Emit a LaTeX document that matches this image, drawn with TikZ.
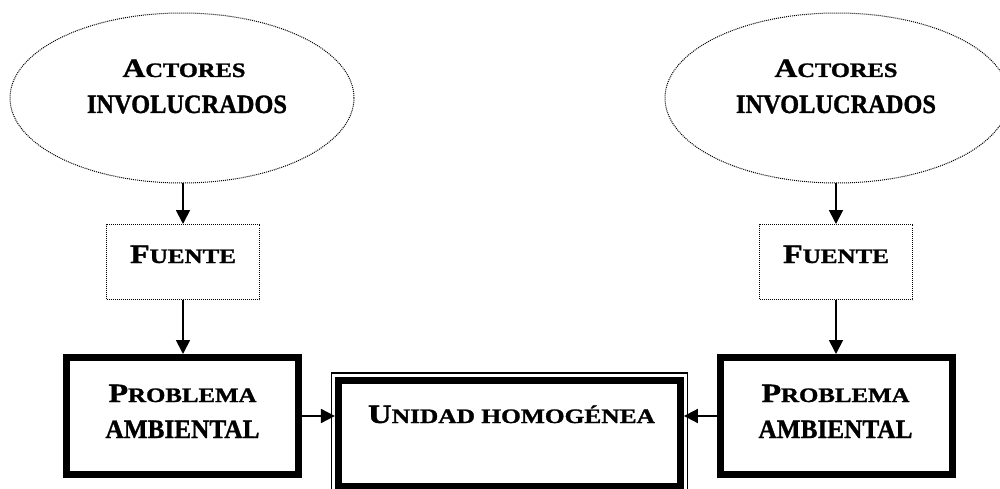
\documentclass[tikz,border=0pt]{standalone}
\usepackage{fontspec}
\setmainfont{Liberation Serif}[BoldFeatures={FakeBold=1.2}]
\usepackage{graphicx}
\usetikzlibrary{shapes.geometric,arrows.meta,calc}

% capital and small-capital sizes, bold face
\newcommand\capsz{\bfseries\fontsize{26.5}{30}\selectfont}
\newcommand\smcsz{\bfseries\fontsize{20.5}{24}\selectfont}
% stretch a line of text to a given width, keeping its height
\newcommand\fitw[2]{\resizebox{#1}{\height}{#2}}

\begin{document}
\begin{tikzpicture}[x=1pt,y=1pt,
  dotline/.style={draw, line width=1pt, dash pattern=on 1pt off 1pt},
  actor/.style={dotline, ellipse, minimum width=344pt, minimum height=170pt, inner sep=0pt},
  source/.style={dotline, rectangle, minimum width=153pt, minimum height=75pt, inner sep=0pt},
  problem/.style={draw, line width=7pt, rectangle, minimum width=232pt, minimum height=117pt, inner sep=0pt},
  unit/.style={draw, line width=7pt, rectangle, minimum width=342pt, minimum height=106.5pt, inner sep=0pt},
  lbl/.style={anchor=base, inner sep=0pt, font=\bfseries},
  arr/.style={line width=1.8pt, -{Triangle[length=14pt,width=14pt]}}
]
\clip (0,0) rectangle (1000,488);

% shapes
\node[actor]   (ell1) at (182,390) {};
\node[actor]   (ell2) at (837,390) {};
\node[source]  (f1)   at (183,226) {};
\node[source]  (f2)   at (836,226) {};
\node[problem] (p1)   at (182.5,72) {};
\node[problem] (p2)   at (836,72) {};
\node[unit]    (u)    at (509.4,54.75) {};
\draw[line width=1.2pt] ($(u.north west)+(-3.5,3.5)$) rectangle ($(u.south east)+(3.5,-3.5)$);

% texts
\node[lbl] (a1) at (184,411) {\fitw{123pt}{\capsz A\smcsz CTORES}};
\node[lbl] (b1) at (187,375) {\fitw{200pt}{\capsz INVOLUCRADOS}};
\node[lbl] (a2) at (836,411) {\fitw{123pt}{\capsz A\smcsz CTORES}};
\node[lbl] (b2) at (836,375) {\fitw{200pt}{\capsz INVOLUCRADOS}};
\node[lbl] (c1) at (183,225) {\fitw{106pt}{\capsz F\smcsz UENTE}};
\node[lbl] (c2) at (836,225) {\fitw{106pt}{\capsz F\smcsz UENTE}};
\node[lbl] (d1) at (182.5,86) {\fitw{148pt}{\capsz P\smcsz ROBLEMA}};
\node[lbl] (e1) at (182.5,50) {\fitw{154pt}{\capsz AMBIENTAL}};
\node[lbl] (d2) at (835.5,86) {\fitw{148pt}{\capsz P\smcsz ROBLEMA}};
\node[lbl] (e2) at (835.5,50) {\fitw{154pt}{\capsz AMBIENTAL}};
\node[lbl] (g)  at (511.5,65) {\fitw{287pt}{\capsz U\smcsz NIDAD HOMOGÉNEA}};

% connectors
\draw[arr] (f1.north |- ell1.south) -- (f1.north);
\draw[arr] (f2.north |- ell2.south) -- (f2.north);
\draw[arr] (f1.south) -- (f1.south |- p1.north);
\draw[arr] (f2.south) -- (f2.south |- p2.north);
\draw[arr] (p1.east) -- (p1.east -| u.west);
\draw[arr] (p2.west) -- (p2.west -| u.east);
\end{tikzpicture}
\end{document}
